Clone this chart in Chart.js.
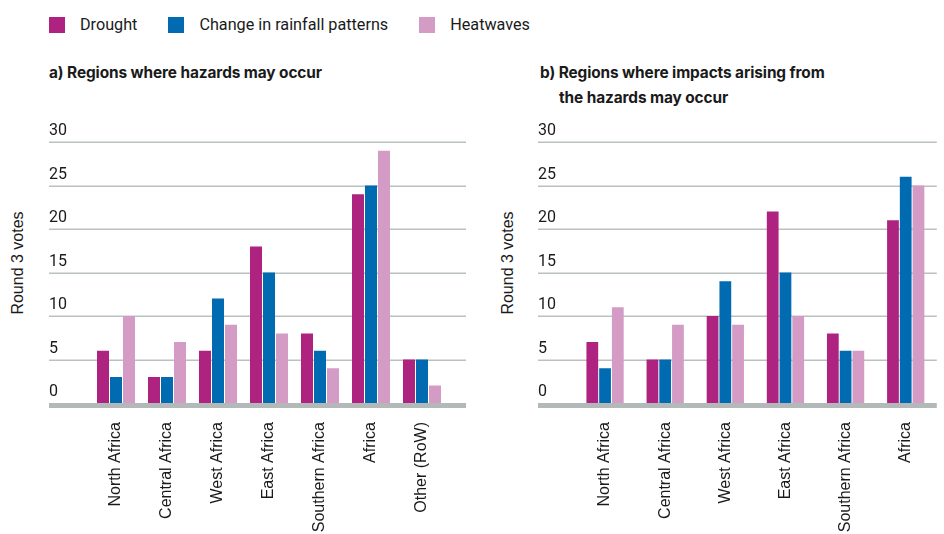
<!DOCTYPE html>
<html>
<head>
<meta charset="utf-8">
<script src="https://cdn.jsdelivr.net/npm/chart.js@4/dist/chart.umd.min.js"></script>
<style>
  html, body { margin: 0; padding: 0; background: #fff; }
  #wrap { position: relative; width: 944px; height: 534px; overflow: hidden; font-family: Roboto, "Liberation Sans", sans-serif; color: #1a1a1a; }
  .legend { position: absolute; left: 49px; top: 17px; display: flex; align-items: center; height: 16px; font-size: 16.2px; line-height: 16px; }
  .legend .sw { width: 16px; height: 16px; margin-right: 15px; flex: none; }
  .legend .lab { margin-right: 31px; white-space: nowrap; }
  .ptitle { position: absolute; top: 61px; font-family: Inter, Roboto, sans-serif; font-weight: bold; font-size: 15.4px; line-height: 24.5px; white-space: nowrap; letter-spacing: -0.1px; }
  .ytitle { position: absolute; font-family: "Liberation Sans", Arial, sans-serif; font-size: 16px; white-space: nowrap; transform: translate(-50%, -50%) rotate(-90deg); }
  canvas { position: absolute; top: 110px; }
</style>
</head>
<body>
<div id="wrap">
  <div class="legend" id="legend"></div>
  <div class="ptitle" style="left:49px;">a) Regions where hazards may occur</div>
  <div class="ptitle" style="left:540px; padding-left:19px; text-indent:-19px;">b) Regions where impacts arising from<br>the hazards may occur</div>
  <div class="ytitle" style="left:17.5px; top:262.5px;">Round 3 votes</div>
  <div class="ytitle" style="left:507.5px; top:262.5px;">Round 3 votes</div>
  <canvas id="chartA" width="490" height="424" style="left:0px;"></canvas>
  <canvas id="chartB" width="454" height="424" style="left:490px;"></canvas>
</div>
<script>
// Series names and colours
const seriesNames = ['Drought', 'Change in rainfall patterns', 'Heatwaves'];
const seriesColors = ['#ae2380', '#006bb0', '#d49bc4'];

// Panel a) regions where hazards may occur
const categoriesA = ['North Africa', 'Central Africa', 'West Africa', 'East Africa', 'Southern Africa', 'Africa', 'Other (RoW)'];
const droughtA  = [6, 3, 6, 18, 8, 24, 5];
const rainfallA = [3, 3, 12, 15, 6, 25, 5];
const heatA     = [10, 7, 9, 8, 4, 29, 2];

// Panel b) regions where impacts may occur
const categoriesB = ['North Africa', 'Central Africa', 'West Africa', 'East Africa', 'Southern Africa', 'Africa'];
const droughtB  = [7, 5, 10, 22, 8, 21];
const rainfallB = [4, 5, 14, 15, 6, 26];
const heatB     = [11, 9, 9, 10, 6, 25];

// Value axis ticks
const yTicks = [0, 5, 10, 15, 20, 25, 30];

// Legend row
const legendEl = document.getElementById('legend');
seriesNames.forEach((name, i) => {
  const sw = document.createElement('span');
  sw.className = 'sw';
  sw.style.background = seriesColors[i];
  const lab = document.createElement('span');
  lab.className = 'lab';
  lab.textContent = name;
  legendEl.appendChild(sw);
  legendEl.appendChild(lab);
});

// Horizontal guide lines that run past the plot area, plus the thick base bar at zero
const extendedGrid = {
  id: 'extendedGrid',
  beforeDatasetsDraw(chart, args, opts) {
    const y = chart.scales.y;
    const { left, right } = chart.chartArea;
    const x0 = left - opts.extendLeft;
    const x1 = right + opts.extendRight;
    const ctx = chart.ctx;
    ctx.save();
    ctx.strokeStyle = opts.color;
    ctx.lineWidth = opts.lineWidth;
    y.ticks.forEach(t => {
      if (t.value === 0) return;
      const py = Math.round(y.getPixelForValue(t.value)) + 0.25;
      ctx.beginPath();
      ctx.moveTo(x0, py);
      ctx.lineTo(x1, py);
      ctx.stroke();
    });
    const base = y.getPixelForValue(0);
    ctx.fillStyle = opts.baseColor;
    ctx.fillRect(x0, base, x1 - x0, opts.baseHeight);
    ctx.restore();
  }
};

function makeChart(id, labels, series, layout) {
  return new Chart(document.getElementById(id), {
    type: 'bar',
    data: {
      labels: labels,
      datasets: series.map((vals, i) => ({
        label: seriesNames[i],
        data: vals,
        backgroundColor: seriesColors[i],
        borderWidth: 0,
        categoryPercentage: layout.catPct,
        barPercentage: 0.923
      }))
    },
    options: {
      responsive: false,
      animation: false,
      devicePixelRatio: 1,
      layout: { padding: { left: layout.padLeft, right: layout.padRight, top: 32, bottom: 0 } },
      plugins: {
        legend: { display: false },
        tooltip: { enabled: false },
        extendedGrid: {
          extendLeft: layout.yWidth,
          extendRight: layout.extRight,
          color: '#bac1c0',
          lineWidth: 1.5,
          baseColor: '#b3b9b8',
          baseHeight: 5
        }
      },
      scales: {
        x: {
          grid: { display: false, drawTicks: false },
          border: { display: false },
          ticks: {
            autoSkip: false,
            minRotation: 90,
            maxRotation: 90,
            padding: 19,
            color: '#1a1a1a',
            font: { family: '"Liberation Sans", Arial, sans-serif', size: 16 }
          },
          afterFit(scale) { scale.height = 131; }
        },
        y: {
          min: 0,
          max: 30,
          afterBuildTicks(scale) { scale.ticks = yTicks.map(v => ({ value: v })); },
          grid: { display: false, drawTicks: false },
          border: { display: false },
          ticks: {
            crossAlign: 'far',
            padding: 0,
            labelOffset: -11,
            color: '#1a1a1a',
            font: { family: 'Roboto, sans-serif', size: 16 }
          },
          afterFit(scale) { scale.width = layout.yWidth; }
        }
      }
    },
    plugins: [extendedGrid]
  });
}

makeChart('chartA', categoriesA, [droughtA, rainfallA, heatA],
  { padLeft: 49, padRight: 42.5, yWidth: 41.5, extRight: 18.5, catPct: 0.765 });
makeChart('chartB', categoriesB, [droughtB, rainfallB, heatB],
  { padLeft: 48, padRight: 1, yWidth: 37, extRight: 1, catPct: 0.636 });
</script>
</body>
</html>
